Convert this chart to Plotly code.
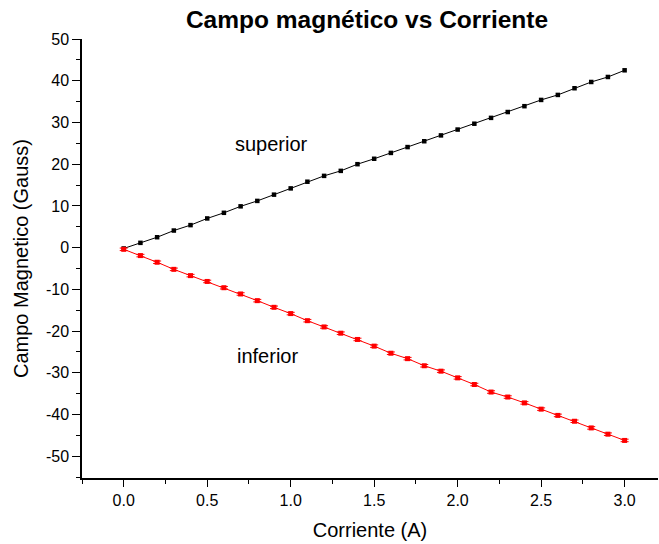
import plotly.graph_objects as go

corriente = [round(0.1 * i, 1) for i in range(31)]
superior = [-0.2, 1.15, 2.5, 4.1, 5.4, 7.0, 8.35, 9.9, 11.2, 12.7, 14.2, 15.8, 17.2, 18.4,
            20.0, 21.3, 22.7, 24.1, 25.5, 26.9, 28.3, 29.7, 31.1, 32.5, 33.9, 35.4, 36.6,
            38.2, 39.7, 40.9, 42.5]
inferior = [-0.4, -1.9, -3.5, -5.2, -6.7, -8.1, -9.6, -11.1, -12.7, -14.3, -15.8, -17.5,
            -19.0, -20.5, -22.0, -23.6, -25.3, -26.6, -28.3, -29.6, -31.2, -32.8, -34.6,
            -35.8, -37.2, -38.7, -40.2, -41.6, -43.2, -44.7, -46.2]
inferior_err = [0.3] * 31

y_tickvals = [50, 40, 30, 20, 10, 0, -10, -20, -30, -40, -50]
y_ticktext = ["50", "40", "30", "20", "10", "0", "-10", "-20", "-30", "-40", "-50"]

FONT = "Liberation Sans, Arial, sans-serif"

fig = go.Figure()
fig.add_trace(go.Scatter(
    x=corriente, y=superior, mode="lines+markers",
    line=dict(color="black", width=1),
    marker=dict(symbol="square", size=4.5, color="black"),
    showlegend=False))
fig.add_trace(go.Scatter(
    x=corriente, y=inferior, mode="lines+markers",
    line=dict(color="red", width=1),
    marker=dict(symbol="square", size=5, color="red"),
    error_y=dict(type="data", array=inferior_err, color="red", thickness=1, width=4),
    showlegend=False))

fig.add_annotation(x=0.886, y=24.9, text="superior", showarrow=False,
                   font=dict(family=FONT, size=20, color="black"))
fig.add_annotation(x=0.862, y=-26.0, text="inferior", showarrow=False,
                   font=dict(family=FONT, size=20, color="black"))

fig.update_layout(
    width=659, height=544,
    margin=dict(l=82, r=1, t=39, b=66),
    paper_bgcolor="white", plot_bgcolor="white",
    font=dict(family=FONT, color="black"),
    title=dict(text="<b>Campo magnético vs Corriente</b>", x=0.5569, xanchor="center",
               y=0.9803, yanchor="top", font=dict(family=FONT, size=24.5, color="black")),
    xaxis=dict(range=[-0.25, 3.2], tick0=0, dtick=0.5, tickformat=".1f",
               showline=True, linecolor="black", linewidth=1.5, showgrid=False, zeroline=False,
               ticks="outside", ticklen=7, tickwidth=1.2, tickcolor="black",
               minor=dict(dtick=0.25, tick0=0, ticks="outside", ticklen=4, tickwidth=1.2, tickcolor="black"),
               tickfont=dict(family=FONT, size=16),
               title=dict(text="Corriente (A)", font=dict(family=FONT, size=20), standoff=15)),
    yaxis=dict(range=[-55.2, 50], tickmode="array", tickvals=y_tickvals, ticktext=y_ticktext,
               showline=True, linecolor="black", linewidth=1.5, showgrid=False, zeroline=False,
               ticks="outside", ticklen=8, tickwidth=1.2, tickcolor="black",
               minor=dict(tickmode="linear", dtick=5, tick0=0, ticks="outside", ticklen=4, tickwidth=1.2, tickcolor="black"),
               tickfont=dict(family=FONT, size=16),
               title=dict(text="Campo Magnetico (Gauss)", font=dict(family=FONT, size=20), standoff=12)),
)

fig.write_html("out.html", config={"displayModeBar": False},
               post_script="document.body.style.margin='0';")
